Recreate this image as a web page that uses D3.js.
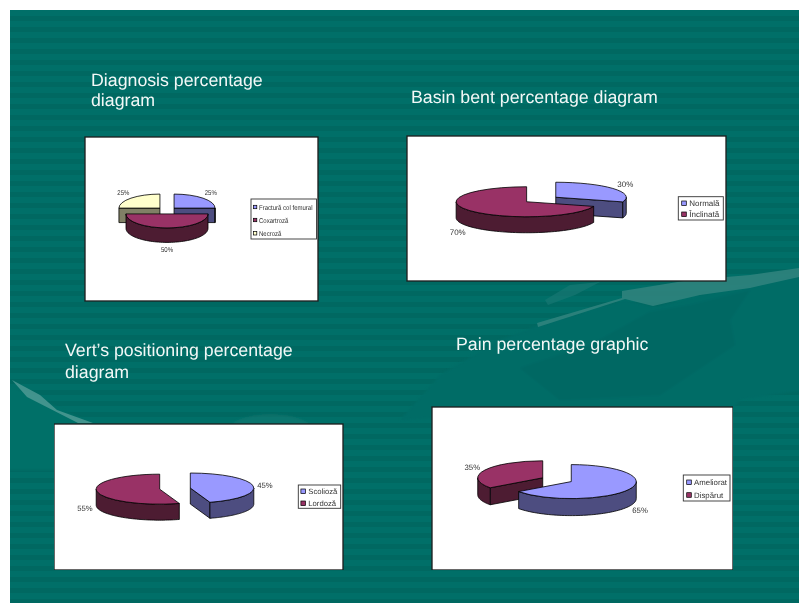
<!DOCTYPE html>
<html><head><meta charset="utf-8">
<script src="https://cdn.jsdelivr.net/npm/d3@7"></script>
<style>html,body{margin:0;padding:0;background:#fff}svg{display:block}text{font-family:"Liberation Sans",Arial,sans-serif;text-rendering:geometricPrecision}</style>
</head><body><svg id="c" width="799" height="603"><defs><filter id="soft" x="0" y="0" width="100%" height="100%"><feGaussianBlur stdDeviation="0.35"/></filter><filter id="softer" x="-5%" y="-5%" width="110%" height="110%"><feGaussianBlur stdDeviation="1.2"/></filter><clipPath id="slide"><rect x="10" y="10" width="789" height="593"/></clipPath></defs></svg>
<script>
// ---- data ----
const titles = [["Diagnosis percentage","diagram"],["Basin bent percentage diagram"],["Vert\u2019s positioning percentage","diagram"],["Pain percentage graphic"]];
const categories1 = ["Fractur\u0103 col femural","Coxartroz\u0103","Necroz\u0103"];
const values1 = [25,50,25];
const categories2 = ["Normal\u0103","\u00CEnclinat\u0103"];
const values2 = [30,70];
const categories3 = ["Scolioz\u0103","Lordoz\u0103"];
const values3 = [45,55];
const categories4 = ["Ameliorat","Disp\u0103rut"];
const values4 = [65,35];
// ---- layout ----
const layouts = [
 {box:[85,137,318,301],cx:167,cy:210.5,rx:41,ry:14,depth:14.5,ex:10,fs:7,sx:.86,
  labels:[[210.7,192.3],[167,250],[123.3,192.3]],legend:[251,199,316.5,239],rows:[207,220,233.3],title:[91,86,20],titleIdx:0,legFs:7,sw:3.4,swx:2.4,tx:8},
 {box:[407,136,726,281],cx:541.2,cy:199.5,rx:70.5,ry:15,depth:16,ex:18,fs:8,sx:1,
  labels:[[625.3,184.3],[457.7,231.7]],legend:[678.3,196.7,723.3,220],rows:[203.3,214.3],title:[411,103,20],titleIdx:1,legFs:8,sw:4.6,swx:3.4,tx:11},
 {box:[54,424,343,570],cx:175,cy:488.6,rx:63.5,ry:15,depth:16,ex:15.5,fs:7.7,sx:1,
  labels:[[265,485.7],[85,508.7]],legend:[298.3,485,340.7,508.3],rows:[491.3,503.3],title:[65,356,22],titleIdx:2,legFs:7.7,sw:4.6,swx:2.6,tx:10},
 {box:[432,407,733,570],cx:557,cy:479.7,rx:65,ry:17,depth:17,ex:16,fs:7.8,sx:1,
  labels:[[640,510.3],[472.3,467.3]],legend:[683.3,475,730,501],rows:[482.3,495],title:[456,350,20],titleIdx:3,legFs:7.8,sw:4.6,swx:3.4,tx:10.8}
];
const palette = [
 {top:"#9999ff",side:"#4d4d80"},
 {top:"#993366",side:"#4d1a33"},
 {top:"#ffffcc",side:"#808066"}
];
const catsAll=[categories1,categories2,categories3,categories4];
const valsAll=[values1,values2,values3,values4];
const W=799,H=603,svg=d3.select("#c");
// background
svg.append("rect").attr("x",10).attr("y",10).attr("width",W-10).attr("height",H-10).attr("fill","#006f68");
const stripeY=d3.range(10,H,11);
svg.append("g").selectAll("rect").data(stripeY).join("rect").attr("x",10).attr("width",W-10)
  .attr("y",d=>d+6).attr("height",5).attr("fill","#006861");
const decor=[
 {d:"M4,382 L95,425 L60,470 L4,470Z",f:"#006f68",o:1},
 {d:"M500,340 L540,325 L625,300 L655,307 L720,290 L805,272 L805,390 L740,400 L690,460 L600,410 L400,420 L440,375Z",f:"#006c66",o:1},
 {d:"M520,368 L590,345 L650,312 L690,305 L750,290 L730,320 L735,345 L660,395 L560,400Z",f:"#006864",o:1},
 {d:"M232,424 C245,412 290,410 310,424Z",f:"#1b7a74",o:.5}
];
svg.append("g").attr("clip-path","url(#slide)").append("g").attr("filter","url(#softer)").selectAll("path").data(decor).join("path").attr("d",d=>d.d).attr("fill",d=>d.f).attr("opacity",d=>d.o);
const streaks=[
 {d:"M12,380 L40,395 L57,410 L93,423 L78,423 L27,397Z",f:"#4d9a94",o:.85},
 {d:"M537,323 L622,298 L622,291 L690,280 L750,275 L799,268 L799,277 L750,288 L700,295 L653,306 L625,299 L538,327Z",f:"#2f837d",o:.9},
 {d:"M545,300 L570,285 L600,282 L575,295 L548,305Z",f:"#1b7a74",o:.6}
];
svg.append("g").selectAll("path").data(streaks).join("path").attr("d",d=>d.d).attr("fill",d=>d.f).attr("opacity",d=>d.o);

const pie=d3.pie().sort(null);
const root=svg.append("g").attr("filter","url(#soft)");
layouts.forEach((L,i)=>{
  const vals=valsAll[i],cats=catsAll[i];
  const g=root.append("g");
  // title
  g.append("g").selectAll("text").data(titles[L.titleIdx]).join("text")
    .attr("x",L.title[0]).attr("y",(d,j)=>L.title[1]+j*L.title[2])
    .attr("fill","#f2f8f7").attr("font-size",17.75).text(d=>d);
  // box
  const [x0,y0,x1,y1]=L.box;
  g.append("rect").attr("x",x0).attr("y",y0).attr("width",x1-x0).attr("height",y1-y0)
    .attr("fill","#fff").attr("stroke","#1a1a1a").attr("stroke-width",1.3);
  // slices back to front
  const k=L.ry/L.rx;
  const arcs=pie(vals).map((a,j)=>{
    const m=(a.startAngle+a.endAngle)/2;
    return {...a,j,ox:L.cx+L.ex*Math.sin(m),oy:L.cy-L.ex*Math.cos(m)*k};
  }).sort((a,b)=>a.oy-b.oy);
  const arcGen=d3.arc().innerRadius(0).outerRadius(L.rx);
  const pt=t=>[L.rx*Math.sin(t),-L.ry*Math.cos(t)];
  arcs.forEach(a=>{
    const s=g.append("g").attr("transform",`translate(${a.ox},${a.oy})`);
    const c=palette[a.j];
    const face=t=>{const p=pt(t);return `M0,0L${p[0]},${p[1]}L${p[0]},${p[1]+L.depth}L0,${L.depth}Z`;};
    if(Math.sin(a.startAngle)<-1e-6) s.append("path").attr("d",face(a.startAngle)).attr("fill",c.side).attr("stroke","#000").attr("stroke-width",.8).attr("stroke-linejoin","round");
    if(Math.sin(a.endAngle)>1e-6) s.append("path").attr("d",face(a.endAngle)).attr("fill",c.side).attr("stroke","#000").attr("stroke-width",.8).attr("stroke-linejoin","round");
    const t0=Math.max(a.startAngle,Math.PI/2),t1=Math.min(a.endAngle,1.5*Math.PI);
    if(t1>t0){
      const ts=d3.range(0,61).map(n=>t0+(t1-t0)*n/60);
      const wall=d3.area().x(t=>pt(t)[0]).y0(t=>pt(t)[1]).y1(t=>pt(t)[1]+L.depth);
      s.append("path").attr("d",wall(ts)).attr("fill",c.side).attr("stroke","#000").attr("stroke-width",.8);
    }
    s.append("path").attr("transform",`scale(1,${k})`).attr("d",arcGen(a))
      .attr("fill",c.top).attr("stroke","#000").attr("stroke-width",.8).attr("vector-effect","non-scaling-stroke");
  });
  // percent labels
  const total=d3.sum(vals);
  g.append("g").selectAll("text").data(vals).join("text")
    .attr("transform",(d,j)=>`translate(${L.labels[j][0]},${L.labels[j][1]+L.fs*.35}) scale(${L.sx},1)`)
    .attr("text-anchor","middle").attr("font-size",L.fs).attr("fill","#333")
    .text(d=>Math.round(d/total*100)+"%");
  // legend
  const [lx0,ly0,lx1,ly1]=L.legend;
  g.append("rect").attr("x",lx0).attr("y",ly0).attr("width",lx1-lx0).attr("height",ly1-ly0)
    .attr("fill","#fff").attr("stroke","#333").attr("stroke-width",.9);
  const row=g.append("g").selectAll("g").data(cats).join("g")
    .attr("transform",(d,j)=>`translate(${lx0+L.swx},${L.rows[j]})`);
  row.append("rect").attr("x",0).attr("y",-L.sw/2).attr("width",L.sw).attr("height",L.sw)
    .attr("fill",(d,j)=>palette[j].top).attr("stroke","#000").attr("stroke-width",.7);
  row.append("text").attr("transform",`translate(${L.tx-L.swx},${L.legFs*.36}) scale(${L.sx},1)`)
    .attr("font-size",L.legFs).attr("fill","#333").text(d=>d);
});
</script></body></html>
